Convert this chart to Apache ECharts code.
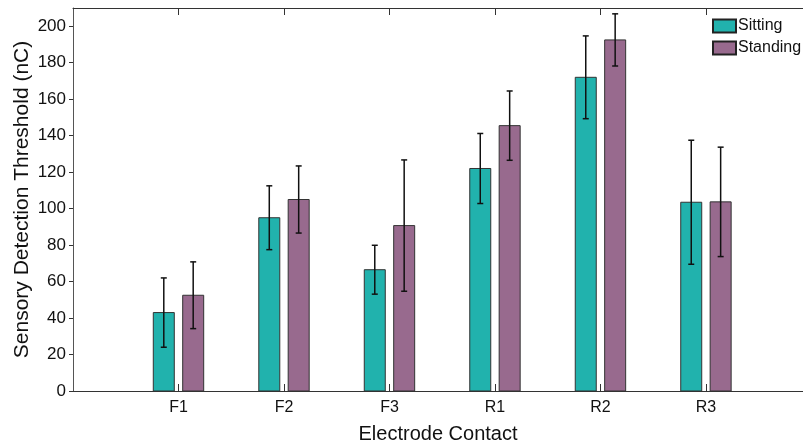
<!DOCTYPE html>
<html>
<head>
<meta charset="utf-8">
<script src="https://cdn.jsdelivr.net/npm/echarts@6/dist/echarts.min.js"></script>
<style>
  html, body { margin: 0; padding: 0; background: #fff; }
  #chart { width: 803px; height: 441px; }
</style>
</head>
<body>
<div id="chart"></div>
<script>
// electrode contacts, placed at x = 1..6
const categories = ['F1', 'F2', 'F3', 'R1', 'R2', 'R3'];
const xTicks = [1, 2, 3, 4, 5, 6];
// mean thresholds (nC) and error (+/-)
const sittingMean = [43, 95, 66.5, 122, 172, 103.5];
const sittingErr = [19, 17.5, 13.4, 19.2, 22.7, 34];
const standingMean = [52.5, 105, 90.7, 145.5, 192.5, 103.7];
const standingErr = [18.3, 18.4, 36, 19, 14.3, 30];
const yTicks = [0, 20, 40, 60, 80, 100, 120, 140, 160, 180, 200];

const FONT = 'Liberation Sans, Arial, Helvetica, sans-serif';
const BAR_W = 21;

// bar + error bar drawn through the axis scales
function makeRender(offset) {
  return function (params, api) {
    const x = api.value(0);
    const v = api.value(1);
    const e = api.value(2);
    const base = api.coord([x, 0]);
    const top = api.coord([x, v]);
    const hi = api.coord([x, v + e]);
    const lo = api.coord([x, v - e]);
    const cx = base[0] + offset;
    const style = api.style();
    return {
      type: 'group',
      children: [
        {
          type: 'rect',
          shape: { x: cx - BAR_W / 2, y: top[1], width: BAR_W, height: base[1] - top[1] },
          style: { fill: style.fill, stroke: '#333', lineWidth: 1 }
        },
        {
          type: 'line',
          shape: { x1: cx, y1: hi[1], x2: cx, y2: lo[1] },
          style: { stroke: '#111', lineWidth: 1.5 }
        },
        {
          type: 'line',
          shape: { x1: cx - 3, y1: hi[1], x2: cx + 3, y2: hi[1] },
          style: { stroke: '#111', lineWidth: 1.5 }
        },
        {
          type: 'line',
          shape: { x1: cx - 3, y1: lo[1], x2: cx + 3, y2: lo[1] },
          style: { stroke: '#111', lineWidth: 1.5 }
        }
      ]
    };
  };
}

const chart = echarts.init(document.getElementById('chart'));

const xCommon = {
  type: 'value',
  min: 0,
  max: 6.92,
  splitLine: { show: false },
  axisLine: { lineStyle: { color: '#333', width: 1 } }
};

chart.setOption({
  animation: false,
  textStyle: { fontFamily: FONT },
  grid: { left: 73, top: 8, right: 0, height: 383, outerBoundsMode: 'none', containLabel: false },
  legend: {
    left: 712,
    top: 18,
    orient: 'vertical',
    padding: 0,
    itemGap: 6,
    itemWidth: 23,
    itemHeight: 13,
    icon: 'rect',
    textStyle: { fontSize: 16, color: '#111', fontFamily: FONT, padding: [0, 0, 0, -3] },
    data: ['Sitting', 'Standing']
  },
  xAxis: [
    Object.assign({}, xCommon, {
      position: 'bottom',
      name: 'Electrode Contact',
      nameLocation: 'middle',
      nameGap: 33,
      nameTextStyle: { fontSize: 20, color: '#111', fontFamily: FONT },
      axisTick: { inside: true, length: 7, customValues: xTicks, lineStyle: { color: '#333' } },
      axisLabel: {
        fontSize: 16,
        color: '#111',
        margin: 9,
        customValues: xTicks,
        formatter: function (v) { return categories[v - 1] || ''; }
      }
    }),
    Object.assign({}, xCommon, {
      position: 'top',
      axisTick: { inside: true, length: 7, customValues: xTicks, lineStyle: { color: '#333' } },
      axisLabel: { show: false }
    })
  ],
  yAxis: {
    type: 'value',
    min: 0,
    max: 210,
    name: 'Sensory Detection Threshold (nC)',
    nameLocation: 'middle',
    nameGap: 40,
    nameMoveOverlap: false,
    nameTextStyle: { fontSize: 21, color: '#111', fontFamily: FONT },
    splitLine: { show: false },
    axisLine: { show: true, lineStyle: { color: '#555', width: 1 } },
    axisTick: { show: true, length: 4, customValues: yTicks, lineStyle: { color: '#333' } },
    axisLabel: { fontSize: 17, color: '#111', margin: 7, customValues: yTicks }
  },
  series: [
    {
      name: 'Sitting',
      type: 'custom',
      xAxisIndex: 0,
      itemStyle: { color: '#21b2ad', borderColor: '#222', borderWidth: 1 },
      renderItem: makeRender(-14.7),
      encode: { x: 0, y: 1 },
      data: categories.map((c, i) => [i + 1, sittingMean[i], sittingErr[i]])
    },
    {
      name: 'Standing',
      type: 'custom',
      xAxisIndex: 0,
      itemStyle: { color: '#986a8e', borderColor: '#222', borderWidth: 1 },
      renderItem: makeRender(14.7),
      encode: { x: 0, y: 1 },
      data: categories.map((c, i) => [i + 1, standingMean[i], standingErr[i]])
    }
  ]
});
</script>
</body>
</html>
